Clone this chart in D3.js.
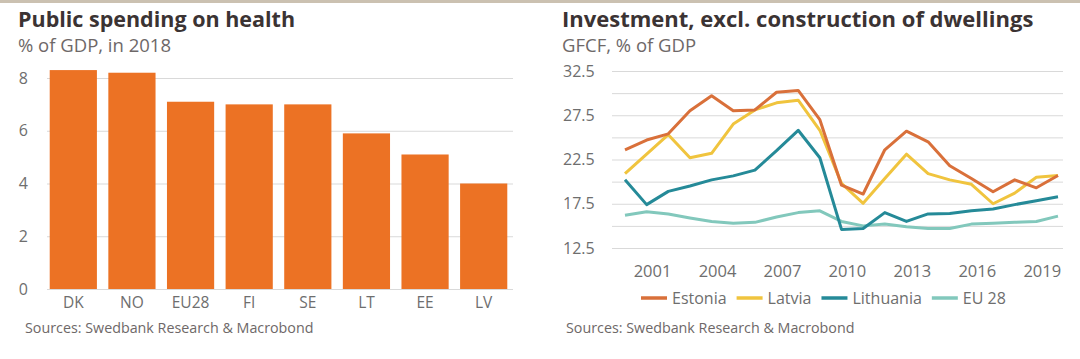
<!DOCTYPE html>
<html><head><meta charset="utf-8">
<script src="https://cdn.jsdelivr.net/npm/d3@7"></script>
<style>
html,body{margin:0;padding:0;background:#fff;}
svg{display:block;font-family:"Open Sans","Noto Sans",sans-serif;}
</style></head>
<body><svg id="c" width="1080" height="359"></svg>
<script>
// ---- Left chart data ----
const barCategories = ["DK","NO","EU28","FI","SE","LT","EE","LV"];
const barValues = [8.3, 8.2, 7.1, 7.0, 7.0, 5.9, 5.1, 4.0];
const barTicks = [0, 2, 4, 6, 8];

// ---- Right chart data ----
const years = [1999,2000,2001,2002,2003,2004,2005,2006,2007,2008,2009,2010,2011,2012,2013,2014,2015,2016,2017,2018,2019];
const estonia   = [23.6,24.7,25.4,28.0,29.7,28.0,28.1,30.1,30.3,27.0,19.6,18.6,23.6,25.7,24.5,21.8,20.35,18.85,20.2,19.3,20.7];
const latvia    = [20.9,23.1,25.3,22.7,23.2,26.5,28.1,28.9,29.2,25.8,19.8,17.55,20.35,23.1,20.9,20.2,19.7,17.5,18.7,20.5,20.7];
const lithuania = [20.2,17.4,18.9,19.5,20.2,20.65,21.3,23.5,25.8,22.7,14.6,14.7,16.5,15.5,16.35,16.4,16.7,16.9,17.4,17.85,18.3];
const eu28      = [16.2,16.6,16.35,15.9,15.5,15.3,15.4,16.0,16.5,16.7,15.5,15.0,15.2,14.9,14.7,14.7,15.2,15.3,15.4,15.5,16.1];
const seriesNames = ["Estonia","Latvia","Lithuania","EU 28"];
const seriesColors = ["#d9703a","#f0c43e","#258a98","#82c8bc"];
const lineTicks = [12.5,17.5,22.5,27.5,32.5];
const lineGrid = [12.5,15,17.5,20,22.5,25,27.5,30,32.5];
const yearLabels = [2001,2004,2007,2010,2013,2016,2019];

const svg = d3.select("#c");
const titleCol = "#3b3333", subCol = "#6e6868", tickCol = "#6e6e6e", gridCol = "#d9d9d9";

// top band
svg.append("rect").attr("x",0).attr("y",0).attr("width",1080).attr("height",3).attr("fill","#cbc1b1");

// ---------- LEFT ----------
svg.append("text").attr("x",18).attr("y",27).attr("font-size",21.5).attr("font-weight",700)
  .attr("fill",titleCol).text("Public spending on health");
svg.append("text").attr("x",18).attr("y",52).attr("font-size",18.5).attr("fill",subCol).text("% of GDP, in 2018");

const bx = d3.scaleBand().domain(barCategories).range([44,513]).paddingInner(0.195).paddingOuter(0.0975);
const by = d3.scaleLinear().domain([0,8]).range([289,78]);

const gL = svg.append("g");
gL.append("g").attr("transform","translate(47,0)")
  .call(d3.axisLeft(by).tickValues(barTicks).tickSize(-466).tickFormat(d3.format("d")))
  .call(g=>{g.select(".domain").remove();
    g.selectAll(".tick line").attr("stroke",gridCol).attr("stroke-width",1);
    g.selectAll(".tick text").attr("x",-19).attr("fill",tickCol).attr("font-size",16).attr("font-family","Open Sans");});
gL.selectAll("rect.bar").data(barValues).join("rect").attr("class","bar")
  .attr("x",(d,i)=>bx(barCategories[i])).attr("width",bx.bandwidth())
  .attr("y",d=>by(d)).attr("height",d=>by(0)-by(d)).attr("fill","#ec7224");
gL.append("g").attr("transform","translate(0,289)")
  .call(d3.axisBottom(bx).tickSize(0).tickPadding(7))
  .call(g=>{g.select(".domain").remove();
    g.selectAll(".tick text").attr("fill",tickCol).attr("font-size",15.5).attr("dy","0.8em").attr("font-family","Open Sans");});
svg.append("text").attr("x",25).attr("y",333).attr("font-size",14.3).attr("fill",subCol)
  .text("Sources: Swedbank Research & Macrobond");

// ---------- RIGHT ----------
svg.append("text").attr("x",562).attr("y",27).attr("font-size",22).attr("font-weight",700)
  .attr("fill",titleCol).text("Investment, excl. construction of dwellings");
svg.append("text").attr("x",562).attr("y",52).attr("font-size",18.5).attr("fill",subCol).text("GFCF, % of GDP");

const lx = d3.scaleLinear().domain([1999,2019]).range([625,1058]);
const ly = d3.scaleLinear().domain([12.5,32.5]).range([248,71]);
const gR = svg.append("g");
gR.append("g").attr("transform","translate(612,0)")
  .call(d3.axisLeft(ly).tickValues(lineGrid).tickSize(-451).tickFormat(d=>lineTicks.includes(d)?d3.format(".1f")(d):""))
  .call(g=>{g.select(".domain").remove();
    g.selectAll(".tick line").attr("stroke",gridCol).attr("stroke-width",1);
    g.selectAll(".tick text").attr("x",-49).attr("text-anchor","start").attr("fill",tickCol).attr("font-size",16).attr("font-family","Open Sans");});
const yearStep = lx(2000)-lx(1999);
gR.append("g").attr("transform","translate(0,262)")
  .call(d3.axisBottom(lx).tickValues(yearLabels).tickSize(0).tickFormat(d3.format("d")))
  .call(g=>{g.select(".domain").remove();
    g.selectAll(".tick text").attr("dx",-0.75*yearStep).attr("fill",tickCol).attr("font-size",16.5).attr("font-family","Open Sans");});

const allSeries = [estonia, latvia, lithuania, eu28];
const line = d3.line().x((d,i)=>lx(years[i])).y(d=>ly(d));
const drawOrder = [3,2,1,0];
drawOrder.forEach(k=>{
  gR.append("path").datum(allSeries[k]).attr("d",line).attr("fill","none")
    .attr("stroke",seriesColors[k]).attr("stroke-width",3).attr("stroke-linejoin","round");
});

// legend
let lgx = 641;
const lg = svg.append("g").attr("transform","translate(0,298)");
seriesNames.forEach((n,k)=>{
  lg.append("line").attr("x1",lgx).attr("x2",lgx+26).attr("y1",0).attr("y2",0)
    .attr("stroke",seriesColors[k]).attr("stroke-width",3.5);
  const t = lg.append("text").attr("x",lgx+31).attr("y",0).attr("dy","0.35em").attr("font-size",16)
    .attr("fill",tickCol).text(n);
  lgx += 31 + t.node().getComputedTextLength() + 10;
});
svg.append("text").attr("x",566).attr("y",333).attr("font-size",14.3).attr("fill",subCol)
  .text("Sources: Swedbank Research & Macrobond");
</script></body></html>
